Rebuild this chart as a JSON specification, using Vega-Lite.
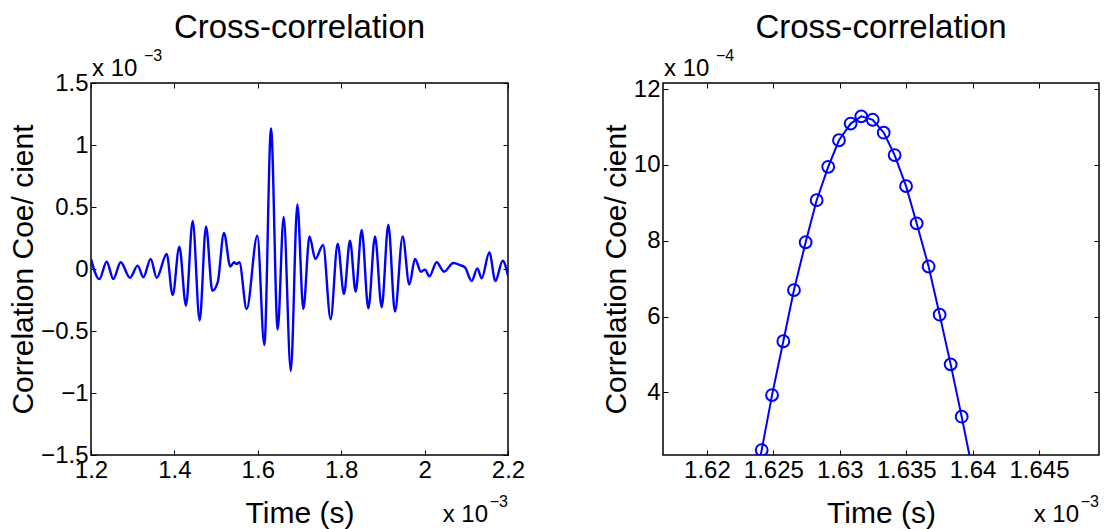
{
  "$schema": "https://vega.github.io/schema/vega-lite/v6.json",
  "background": "white",
  "padding": {"left": 7, "top": 11, "right": 5, "bottom": 0},
  "bounds": "flush",
  "spacing": 155,
  "datasets": {
    "signal": [
      {"t": 1.2000, "c": 0.081}, {"t": 1.2200, "c": -0.081}, {"t": 1.2376, "c": 0.059}, {"t": 1.2536, "c": -0.081},
      {"t": 1.2711, "c": 0.054}, {"t": 1.2935, "c": -0.070}, {"t": 1.3119, "c": 0.027}, {"t": 1.3255, "c": -0.067},
      {"t": 1.3431, "c": 0.081}, {"t": 1.3575, "c": -0.070}, {"t": 1.3815, "c": 0.121}, {"t": 1.3958, "c": -0.210},
      {"t": 1.4118, "c": 0.180}, {"t": 1.4278, "c": -0.296}, {"t": 1.4438, "c": 0.387}, {"t": 1.4606, "c": -0.414},
      {"t": 1.4758, "c": 0.344}, {"t": 1.4910, "c": -0.175}, {"t": 1.5038, "c": -0.108}, {"t": 1.5189, "c": 0.290},
      {"t": 1.5341, "c": 0.019}, {"t": 1.5429, "c": 0.054}, {"t": 1.5493, "c": 0.040}, {"t": 1.5557, "c": 0.054},
      {"t": 1.5733, "c": -0.323}, {"t": 1.5989, "c": 0.269}, {"t": 1.6157, "c": -0.613}, {"t": 1.6317, "c": 1.134},
      {"t": 1.6477, "c": -0.489}, {"t": 1.6620, "c": 0.420}, {"t": 1.6792, "c": -0.823}, {"t": 1.6948, "c": 0.520},
      {"t": 1.7092, "c": -0.323}, {"t": 1.7240, "c": 0.262}, {"t": 1.7380, "c": 0.081}, {"t": 1.7565, "c": 0.194},
      {"t": 1.7747, "c": -0.405}, {"t": 1.7915, "c": 0.204}, {"t": 1.8067, "c": -0.202}, {"t": 1.8211, "c": 0.228},
      {"t": 1.8347, "c": -0.183}, {"t": 1.8491, "c": 0.315}, {"t": 1.8651, "c": -0.317}, {"t": 1.8811, "c": 0.263},
      {"t": 1.8971, "c": -0.309}, {"t": 1.9130, "c": 0.358}, {"t": 1.9290, "c": -0.344}, {"t": 1.9474, "c": 0.263},
      {"t": 1.9634, "c": -0.126}, {"t": 1.9770, "c": 0.081}, {"t": 1.9914, "c": -0.022}, {"t": 2.0010, "c": -0.005},
      {"t": 2.0113, "c": -0.059}, {"t": 2.0289, "c": 0.054}, {"t": 2.0465, "c": -0.022}, {"t": 2.0689, "c": 0.048},
      {"t": 2.0849, "c": 0.032}, {"t": 2.0969, "c": 0.013}, {"t": 2.1129, "c": -0.097}, {"t": 2.1265, "c": 0.005},
      {"t": 2.1369, "c": -0.075}, {"t": 2.1553, "c": 0.134}, {"t": 2.1697, "c": -0.097}, {"t": 2.1873, "c": 0.067},
      {"t": 2.2000, "c": -0.054}
    ],
    "peak": [
      {"t": 1.62328, "c": 1.0}, {"t": 1.62412, "c": 2.48}, {"t": 1.62490, "c": 3.93}, {"t": 1.62575, "c": 5.35},
      {"t": 1.62655, "c": 6.70}, {"t": 1.62743, "c": 7.96}, {"t": 1.62826, "c": 9.07}, {"t": 1.62913, "c": 9.95},
      {"t": 1.62994, "c": 10.65}, {"t": 1.63082, "c": 11.09}, {"t": 1.63162, "c": 11.28}, {"t": 1.63248, "c": 11.19},
      {"t": 1.63331, "c": 10.85}, {"t": 1.63413, "c": 10.26}, {"t": 1.63499, "c": 9.44}, {"t": 1.63579, "c": 8.46},
      {"t": 1.63669, "c": 7.32}, {"t": 1.63752, "c": 6.05}, {"t": 1.63835, "c": 4.74}, {"t": 1.63918, "c": 3.36},
      {"t": 1.64002, "c": 1.9}
    ]
  },
  "hconcat": [
    {
      "width": 417,
      "height": 372,
      "title": {"text": "Cross-correlation", "offset": -23, "baseline": "alphabetic"},
      "layer": [
        {
          "data": {"name": "signal"},
          "mark": {"type": "line", "color": "#0000ff", "strokeWidth": 2.4, "interpolate": "monotone", "clip": true},
          "encoding": {
            "x": {"field": "t", "type": "quantitative", "scale": {"domain": [1.2, 2.2], "nice": false, "zero": false},
                  "axis": {"orient": "bottom", "values": [1.2, 1.4, 1.6, 1.8, 2, 2.2], "format": "~g", "title": "Time (s)", "labelPadding": 8, "titlePadding": 16}},
            "y": {"field": "c", "type": "quantitative", "scale": {"domain": [-1.5, 1.5], "nice": false, "zero": false},
                  "axis": {"orient": "left", "values": [-1.5, -1, -0.5, 0, 0.5, 1, 1.5], "format": "~g", "title": "Correlation Coe/ cient", "labelPadding": 8, "titlePadding": 2}}
          }
        },
        {
          "data": {"values": [{"s": "x 10"}]},
          "mark": {"type": "text", "align": "left", "baseline": "alphabetic", "fontSize": 24, "dx": 1, "dy": -7},
          "encoding": {
            "text": {"field": "s"},
            "x": {"datum": 1.2, "type": "quantitative", "axis": {"orient": "top", "values": [1.2, 1.4, 1.6, 1.8, 2, 2.2], "labels": false, "title": null}},
            "y": {"datum": 1.5, "type": "quantitative", "axis": {"orient": "right", "values": [-1.5, -1, -0.5, 0, 0.5, 1, 1.5], "labels": false, "title": null}}
          }
        },
        {
          "data": {"values": [{"s": "−3"}]},
          "mark": {"type": "text", "align": "left", "baseline": "alphabetic", "fontSize": 16, "dx": 53, "dy": -22},
          "encoding": {
            "text": {"field": "s"},
            "x": {"datum": 1.2, "type": "quantitative", "axis": null},
            "y": {"datum": 1.5, "type": "quantitative", "axis": null}
          }
        },
        {
          "data": {"values": [{"s": "x 10"}]},
          "mark": {"type": "text", "align": "right", "baseline": "alphabetic", "fontSize": 24, "dx": -20, "dy": 67},
          "encoding": {
            "text": {"field": "s"},
            "x": {"datum": 2.2, "type": "quantitative", "axis": null},
            "y": {"datum": -1.5, "type": "quantitative", "axis": null}
          }
        },
        {
          "data": {"values": [{"s": "−3"}]},
          "mark": {"type": "text", "align": "right", "baseline": "alphabetic", "fontSize": 16, "dx": 0, "dy": 52},
          "encoding": {
            "text": {"field": "s"},
            "x": {"datum": 2.2, "type": "quantitative", "axis": null},
            "y": {"datum": -1.5, "type": "quantitative", "axis": null}
          }
        }
      ],
      "resolve": {"axis": {"x": "independent", "y": "independent"}}
    },
    {
      "width": 436,
      "height": 372,
      "title": {"text": "Cross-correlation", "offset": -23, "baseline": "alphabetic"},
      "layer": [
        {
          "data": {"name": "peak"},
          "mark": {"type": "line", "color": "#0000ff", "strokeWidth": 2, "clip": true},
          "encoding": {
            "x": {"field": "t", "type": "quantitative", "scale": {"domain": [1.61669, 1.64952], "nice": false, "zero": false},
                  "axis": {"orient": "bottom", "values": [1.62, 1.625, 1.63, 1.635, 1.64, 1.645], "format": "~g", "title": "Time (s)", "labelPadding": 8, "titlePadding": 16}},
            "y": {"field": "c", "type": "quantitative", "scale": {"domain": [2.35, 12.16], "nice": false, "zero": false},
                  "axis": {"orient": "left", "values": [4, 6, 8, 10, 12], "format": "~g", "title": "Correlation Coe/ cient", "labelPadding": 8, "titlePadding": 2}}
          }
        },
        {
          "data": {"name": "peak"},
          "mark": {"type": "point", "shape": "circle", "filled": false, "color": "#0000ff", "size": 140, "strokeWidth": 2, "opacity": 1, "clip": true},
          "encoding": {
            "x": {"field": "t", "type": "quantitative", "axis": null},
            "y": {"field": "c", "type": "quantitative", "axis": null}
          }
        },
        {
          "data": {"values": [{"s": "x 10"}]},
          "mark": {"type": "text", "align": "left", "baseline": "alphabetic", "fontSize": 24, "dx": 1, "dy": -7},
          "encoding": {
            "text": {"field": "s"},
            "x": {"datum": 1.61669, "type": "quantitative", "axis": {"orient": "top", "values": [1.62, 1.625, 1.63, 1.635, 1.64, 1.645], "labels": false, "title": null}},
            "y": {"datum": 12.16, "type": "quantitative", "axis": {"orient": "right", "values": [4, 6, 8, 10, 12], "labels": false, "title": null}}
          }
        },
        {
          "data": {"values": [{"s": "−4"}]},
          "mark": {"type": "text", "align": "left", "baseline": "alphabetic", "fontSize": 16, "dx": 53, "dy": -22},
          "encoding": {
            "text": {"field": "s"},
            "x": {"datum": 1.61669, "type": "quantitative", "axis": null},
            "y": {"datum": 12.16, "type": "quantitative", "axis": null}
          }
        },
        {
          "data": {"values": [{"s": "x 10"}]},
          "mark": {"type": "text", "align": "right", "baseline": "alphabetic", "fontSize": 24, "dx": -20, "dy": 67},
          "encoding": {
            "text": {"field": "s"},
            "x": {"datum": 1.64952, "type": "quantitative", "axis": null},
            "y": {"datum": 2.35, "type": "quantitative", "axis": null}
          }
        },
        {
          "data": {"values": [{"s": "−3"}]},
          "mark": {"type": "text", "align": "right", "baseline": "alphabetic", "fontSize": 16, "dx": 0, "dy": 52},
          "encoding": {
            "text": {"field": "s"},
            "x": {"datum": 1.64952, "type": "quantitative", "axis": null},
            "y": {"datum": 2.35, "type": "quantitative", "axis": null}
          }
        }
      ],
      "resolve": {"axis": {"x": "independent", "y": "independent"}}
    }
  ],
  "config": {
    "font": "Liberation Sans",
    "view": {"stroke": "#000000", "strokeWidth": 1.5},
    "text": {"color": "#000000", "font": "Liberation Sans"},
    "axis": {
      "domain": false, "grid": false, "ticks": true, "tickSize": -5, "tickColor": "#000000", "tickWidth": 1,
      "labelFont": "Liberation Sans", "labelFontSize": 24, "labelColor": "#000000", "labelFlush": false, "labelOverlap": false,
      "titleFont": "Liberation Sans", "titleFontSize": 30, "titleFontWeight": "normal", "titleColor": "#000000"
    },
    "title": {"font": "Liberation Sans", "fontSize": 33, "fontWeight": "normal", "color": "#000000", "anchor": "middle"}
  }
}
